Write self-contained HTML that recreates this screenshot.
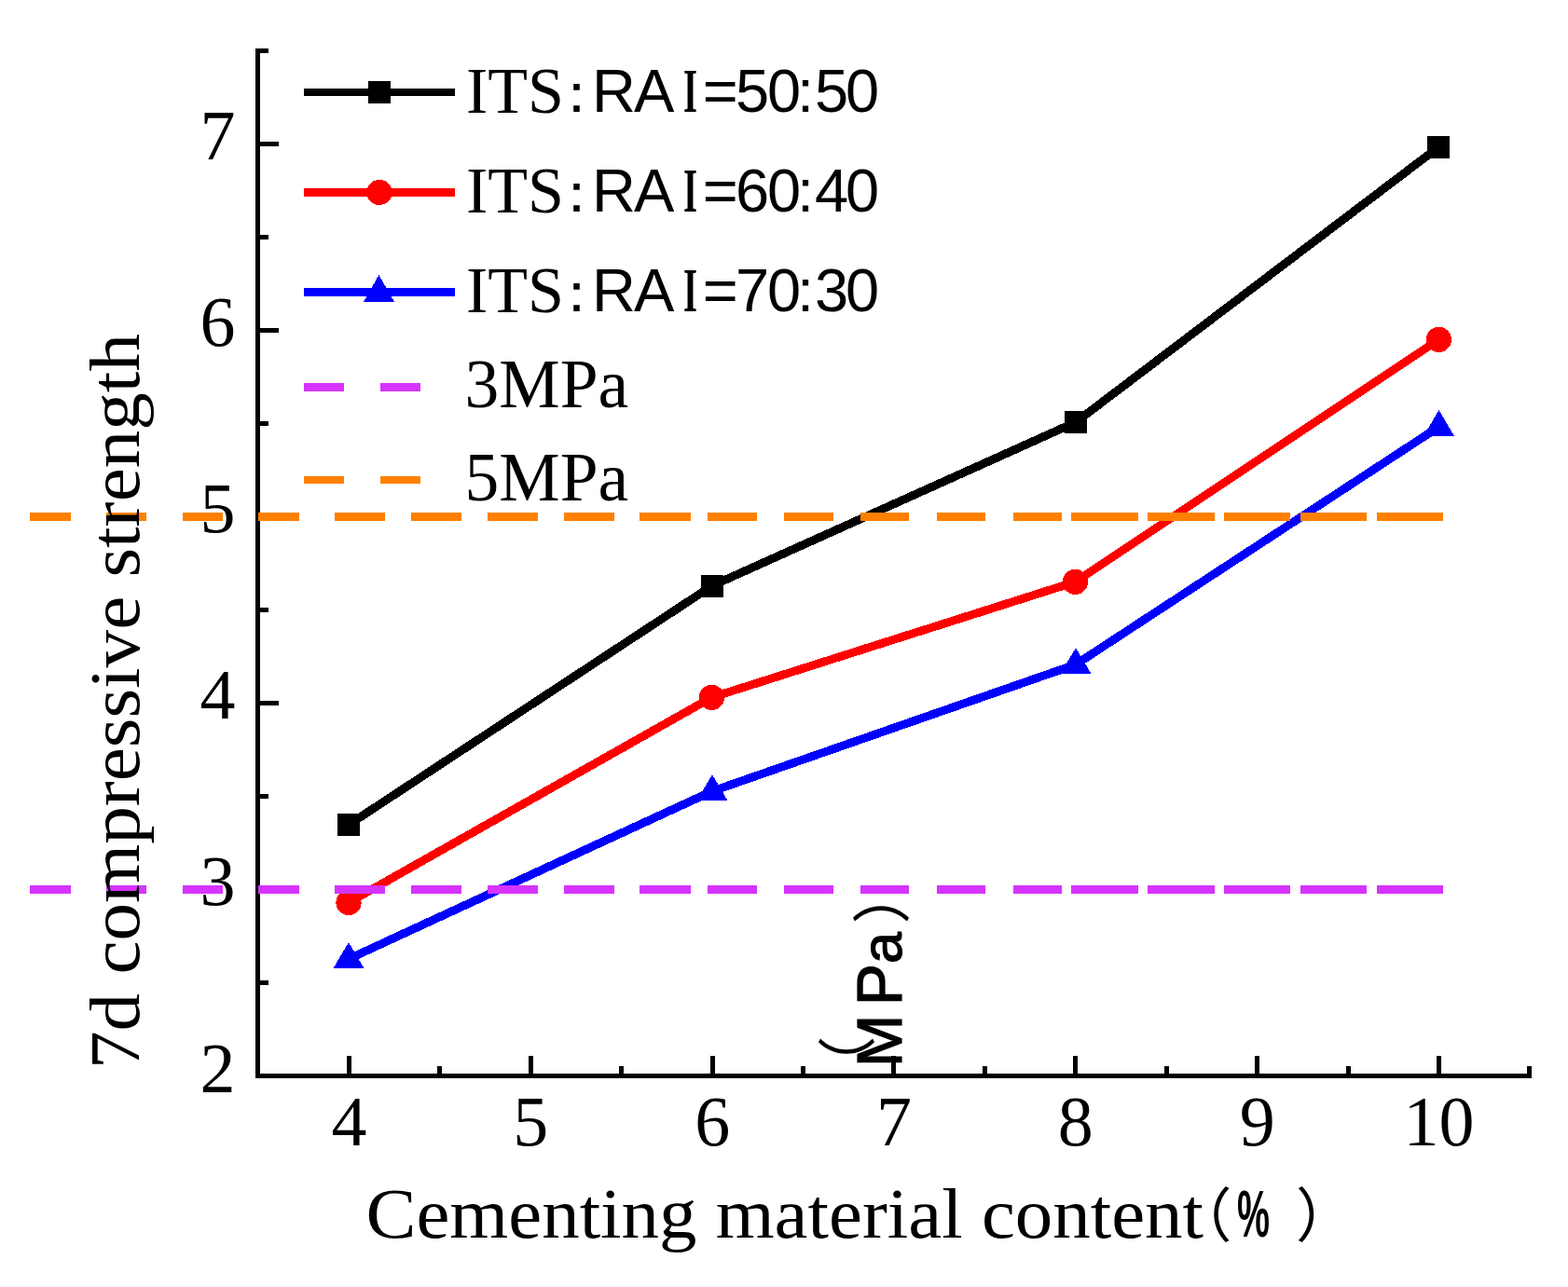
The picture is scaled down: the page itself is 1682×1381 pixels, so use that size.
<!DOCTYPE html><html><head><meta charset="utf-8"><title>7d compressive strength</title>
<style>html,body{margin:0;padding:0;background:#fff;}svg{display:block;}.serif{font-family:"Liberation Serif","Noto Serif CJK SC",serif;}.sans{font-family:"Liberation Sans","Noto Sans CJK SC",sans-serif;}.cjk{font-family:"Liberation Sans","Noto Sans CJK SC",sans-serif;}</style></head><body>
<svg width="1682" height="1381" viewBox="0 0 1682 1381" shape-rendering="crispEdges">
<rect width="1682" height="1381" fill="#fff"/>
<polyline fill="none" stroke="#000" stroke-width="9" stroke-linejoin="miter" points="374,885 764,628.5 1154,453 1543,158"/>
<polyline fill="none" stroke="#FF0000" stroke-width="9" stroke-linejoin="miter" points="374,968.5 763.4,748.4 1153.4,624.4 1543.4,364.4"/>
<polyline fill="none" stroke="#0000FF" stroke-width="9" stroke-linejoin="miter" points="374,1029 764,849 1154,713 1543.5,458"/>
<rect x="362" y="873" width="24" height="24" fill="#000"/>
<rect x="752" y="616.5" width="24" height="24" fill="#000"/>
<rect x="1142" y="441" width="24" height="24" fill="#000"/>
<rect x="1531" y="146" width="24" height="24" fill="#000"/>
<circle cx="374" cy="968.5" r="13.6" fill="#FF0000"/>
<circle cx="763.4" cy="748.4" r="13.6" fill="#FF0000"/>
<circle cx="1153.4" cy="624.4" r="13.6" fill="#FF0000"/>
<circle cx="1543.4" cy="364.4" r="13.6" fill="#FF0000"/>
<polygon fill="#0000FF" points="374,1011 390.3,1038.6 357.7,1038.6"/>
<polygon fill="#0000FF" points="764,831 780.3,858.6 747.7,858.6"/>
<polygon fill="#0000FF" points="1154,695 1170.3,722.6 1137.7,722.6"/>
<polygon fill="#0000FF" points="1543.5,440 1559.8,467.6 1527.2,467.6"/>
<g fill="#000">
<rect x="274" y="52" width="5" height="1105"/>
<rect x="274" y="1152" width="1369" height="5"/>
<rect x="372" y="1133" width="5" height="19"/>
<rect x="566.83" y="1133" width="5" height="19"/>
<rect x="761.66" y="1133" width="5" height="19"/>
<rect x="956.49" y="1133" width="5" height="19"/>
<rect x="1151.32" y="1133" width="5" height="19"/>
<rect x="1346.15" y="1133" width="5" height="19"/>
<rect x="1540.98" y="1133" width="5" height="19"/>
<rect x="469.415" y="1144" width="5" height="8"/>
<rect x="664.245" y="1144" width="5" height="8"/>
<rect x="859.075" y="1144" width="5" height="8"/>
<rect x="1053.91" y="1144" width="5" height="8"/>
<rect x="1248.74" y="1144" width="5" height="8"/>
<rect x="1443.57" y="1144" width="5" height="8"/>
<rect x="1638.39" y="1144" width="5" height="8"/>
<rect x="279" y="1152" width="20" height="5"/>
<rect x="279" y="951.96" width="20" height="5"/>
<rect x="279" y="751.92" width="20" height="5"/>
<rect x="279" y="551.88" width="20" height="5"/>
<rect x="279" y="351.84" width="20" height="5"/>
<rect x="279" y="151.8" width="20" height="5"/>
<rect x="279" y="1051.98" width="9" height="5"/>
<rect x="279" y="851.94" width="9" height="5"/>
<rect x="279" y="651.9" width="9" height="5"/>
<rect x="279" y="451.86" width="9" height="5"/>
<rect x="279" y="251.82" width="9" height="5"/>
<rect x="279" y="51.78" width="9" height="5"/>
</g>
<path fill="#FF8000" d="M32 550h44v9h-44zM114 550h43v9h-43zM196 550h43v9h-43zM277 550h44v9h-44zM359 550h54v9h-54zM441 550h54v9h-54zM523 550h54v9h-54zM605 550h54v9h-54zM686 550h55v9h-55zM759 550h53v9h-53zM841 550h53v9h-53zM923 550h52v9h-52zM1005 550h52v9h-52zM1087 550h52v9h-52zM1149 550h72v9h-72zM1231 550h72v9h-72zM1313 550h71v9h-71zM1395 550h71v9h-71zM1477 550h71v9h-71z"/>
<path fill="#D633FF" d="M32 950h44v9h-44zM114 950h43v9h-43zM196 950h43v9h-43zM277 950h44v9h-44zM359 950h54v9h-54zM441 950h54v9h-54zM523 950h54v9h-54zM605 950h54v9h-54zM686 950h55v9h-55zM759 950h53v9h-53zM841 950h53v9h-53zM923 950h52v9h-52zM1005 950h52v9h-52zM1087 950h52v9h-52zM1149 950h72v9h-72zM1231 950h72v9h-72zM1313 950h71v9h-71zM1395 950h71v9h-71zM1477 950h71v9h-71z"/>
<g class="serif" font-size="76" fill="#000" text-anchor="middle">
<text x="233.5" y="1171.5">2</text>
<text x="233.5" y="971.46">3</text>
<text x="233.5" y="771.42">4</text>
<text x="233.5" y="571.38">5</text>
<text x="233.5" y="371.34">6</text>
<text x="233.5" y="171.3">7</text>
<text x="374.5" y="1229">4</text>
<text x="569.33" y="1229">5</text>
<text x="764.16" y="1229">6</text>
<text x="958.99" y="1229">7</text>
<text x="1153.82" y="1229">8</text>
<text x="1348.65" y="1229">9</text>
<text x="1543.48" y="1229">10</text>
</g>
<text class="serif" font-size="76" x="392.5" y="1327.5" textLength="898.5" lengthAdjust="spacingAndGlyphs">Cementing material content</text>
<text class="cjk" font-size="63" x="1258.5" y="1326.3">（</text>
<text class="sans" font-weight="bold" font-size="70" x="1327" y="1327" textLength="35" lengthAdjust="spacingAndGlyphs">%</text>
<text class="cjk" font-size="63" x="1390" y="1326.3">）</text>
<text class="serif" font-size="76" transform="translate(149 1147) rotate(-90)" x="0" y="0" textLength="789" lengthAdjust="spacingAndGlyphs">7d compressive strength</text>
<g fill="#000">
<text class="cjk" font-size="63" transform="translate(931 1174.5) rotate(-90)" x="0" y="0">（</text>
<text class="sans" font-size="68" stroke="#000" stroke-width="1.2" text-anchor="middle" transform="translate(967.4 1200) rotate(-90)" x="83 143.5" y="0">MP<tspan font-size="61" x="183">a</tspan></text>
<text class="cjk" font-size="63" transform="translate(968 991.5) rotate(-90)" x="0" y="0">）</text>
</g>
<rect x="326" y="95" width="162" height="8" fill="#000"/>
<rect x="395" y="87" width="24" height="24" fill="#000"/>
<rect x="326" y="202" width="162" height="9" fill="#FF0000"/>
<circle cx="407" cy="206.4" r="13.6" fill="#FF0000"/>
<rect x="326" y="309" width="162" height="9" fill="#0000FF"/>
<polygon fill="#0000FF" points="406.4,295 423,324 390,324"/>
<rect x="326" y="411" width="43" height="9" fill="#D633FF"/><rect x="408" y="411" width="43" height="9" fill="#D633FF"/>
<rect x="326" y="511" width="43" height="8" fill="#FF8000"/><rect x="408" y="511" width="43" height="8" fill="#FF8000"/>
<text class="serif" font-size="70" x="500" y="121.4">ITS</text>
<text font-family="Liberation Sans, WenQuanYi Zen Hei, sans-serif" font-size="59" x="589" y="120">：</text>
<text class="sans" font-size="65" y="120"><tspan text-anchor="middle" x="658.6 701.7">RA</tspan><tspan font-family="Liberation Serif, serif" font-weight="bold" font-size="68" x="733.1" textLength="15" lengthAdjust="spacingAndGlyphs">I</tspan><tspan text-anchor="middle" x="772.7 807 841 864 892 925">=50:50</tspan></text>
<text class="serif" font-size="70" x="500" y="228.4">ITS</text>
<text font-family="Liberation Sans, WenQuanYi Zen Hei, sans-serif" font-size="59" x="589" y="227">：</text>
<text class="sans" font-size="65" y="227"><tspan text-anchor="middle" x="658.6 701.7">RA</tspan><tspan font-family="Liberation Serif, serif" font-weight="bold" font-size="68" x="733.1" textLength="15" lengthAdjust="spacingAndGlyphs">I</tspan><tspan text-anchor="middle" x="772.7 807 841 864 892 925">=60:40</tspan></text>
<text class="serif" font-size="70" x="500" y="335.4">ITS</text>
<text font-family="Liberation Sans, WenQuanYi Zen Hei, sans-serif" font-size="59" x="589" y="334">：</text>
<text class="sans" font-size="65" y="334"><tspan text-anchor="middle" x="658.6 701.7">RA</tspan><tspan font-family="Liberation Serif, serif" font-weight="bold" font-size="68" x="733.1" textLength="15" lengthAdjust="spacingAndGlyphs">I</tspan><tspan text-anchor="middle" x="772.7 807 841 864 892 925">=70:30</tspan></text>
<text class="serif" font-size="73.5" x="498.6" y="437.3">3MPa</text>
<text class="serif" font-size="73.5" x="498.6" y="537.3">5MPa</text>
</svg></body></html>
